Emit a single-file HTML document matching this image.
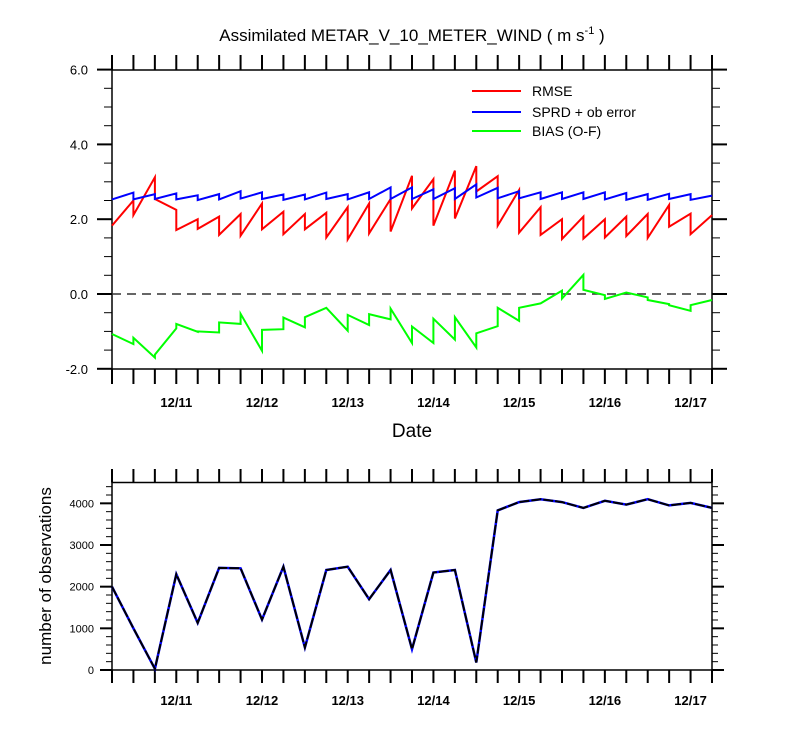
<!DOCTYPE html>
<html><head><meta charset="utf-8"><style>
body{margin:0;background:#fff}
svg{display:block;font-family:"Liberation Sans",sans-serif}
</style></head><body>
<svg id="chart" width="800" height="750" xmlns="http://www.w3.org/2000/svg"></svg>
<script>
// ---- data (6-hourly, 12/10 06Z .. 12/17 06Z) ----
const rmsePrior = [1.83,2.50,3.12,2.25,2.00,2.07,2.14,2.42,2.20,2.14,2.17,2.32,2.42,2.54,3.16,3.07,3.30,3.42,3.15,2.78,2.32,2.00,2.07,2.00,2.07,2.14,2.38,2.15,2.11];
const rmsePost  = [1.83,2.11,2.54,1.71,1.74,1.58,1.56,1.73,1.60,1.73,1.51,1.46,1.62,1.67,2.29,1.83,2.02,2.74,1.83,1.64,1.58,1.47,1.48,1.51,1.55,1.50,1.80,1.60,2.11];
const sprdPrior = [2.53,2.71,2.67,2.69,2.64,2.67,2.75,2.72,2.66,2.66,2.71,2.67,2.72,2.85,2.85,2.80,2.83,2.93,2.84,2.75,2.72,2.72,2.72,2.72,2.70,2.67,2.68,2.67,2.63];
const sprdPost  = [2.53,2.53,2.54,2.53,2.51,2.53,2.55,2.54,2.52,2.53,2.54,2.53,2.54,2.54,2.54,2.54,2.54,2.58,2.56,2.56,2.54,2.54,2.54,2.53,2.52,2.52,2.54,2.52,2.63];
const biasPrior = [-1.07,-1.34,-1.70,-0.92,-1.01,-1.03,-0.80,-1.52,-0.94,-0.89,-0.37,-0.98,-0.83,-0.68,-1.31,-1.31,-1.22,-1.43,-0.86,-0.72,-0.25,0.09,0.51,-0.03,0.04,-0.09,-0.27,-0.45,-0.16];
const biasPost  = [-1.07,-1.17,-1.62,-0.80,-1.00,-0.76,-0.53,-0.96,-0.63,-0.62,-0.37,-0.56,-0.54,-0.39,-0.87,-0.66,-0.62,-1.05,-0.37,-0.37,-0.25,-0.12,0.11,-0.13,0.04,-0.16,-0.30,-0.30,-0.16];
const nObs = [2000,1000,30,2300,1130,2450,2440,1210,2480,540,2400,2480,1700,2400,500,2340,2400,180,3830,4030,4100,4030,3890,4060,3970,4100,3950,4010,3890];
const topTicks = [6.0,4.0,2.0,0.0,-2.0];
const topTickLabels = ["6.0","4.0","2.0","0.0","-2.0"];
const botTicks = [0,1000,2000,3000,4000];
const botTickLabels = ["0","1000","2000","3000","4000"];
const dateLabels = ["12/11","12/12","12/13","12/14","12/15","12/16","12/17"];
const dateIdx = [3,7,11,15,19,23,27];

const NS="http://www.w3.org/2000/svg";
const svg=document.getElementById('chart');
function mk(tag,attrs,parent){const e=document.createElementNS(NS,tag);for(const k in attrs)e.setAttribute(k,attrs[k]);(parent||svg).appendChild(e);return e;}
const X0=112,X1=712,N=28;
const xs=i=>X0+(X1-X0)*i/N;
const yTop=v=>294-(v)*37.4;      // 6 ->70, -2 ->369
const yBot=v=>670-v*(670-482.5)/4500;

// --- top panel axes
const gTop=mk('g',{});


mk('rect',{x:X0,y:70,width:X1-X0,height:299,fill:'none',stroke:'#000','stroke-width':1.5},gTop);
for(let i=0;i<=N;i++){const x=xs(i);
 mk('line',{x1:x,x2:x,y1:55,y2:70,stroke:'#000','stroke-width':2},gTop);
 mk('line',{x1:x,x2:x,y1:369,y2:384,stroke:'#000','stroke-width':2},gTop);}
for(let v=-2;v<=6.001;v+=0.5){const y=yTop(v);const maj=Math.abs(v%2)<1e-6;
 mk('line',{x1:maj?97:104,x2:X0,y1:y,y2:y,stroke:'#000','stroke-width':maj?2:1},gTop);
 mk('line',{x1:X1,x2:maj?727:720,y1:y,y2:y,stroke:'#000','stroke-width':maj?2:1},gTop);}
topTicks.forEach((v,i)=>{const t=mk('text',{x:88,y:yTop(v)+5,'text-anchor':'end','font-size':13},gTop);t.textContent=topTickLabels[i];
 
 });
dateIdx.forEach((k,i)=>{const t=mk('text',{x:xs(k),y:407,'text-anchor':'middle','font-size':13,'font-weight':'bold'},gTop);t.textContent=dateLabels[i];
 
 });
mk('line',{x1:X0,x2:X1,y1:yTop(0),y2:yTop(0),stroke:'#333','stroke-width':1.5,'stroke-dasharray':'9,6'},gTop);

function saw(pr,po,col,name){let d='';for(let i=0;i<=N;i++){d+=(i?'L':'M')+xs(i).toFixed(1)+','+yTop(pr[i]).toFixed(1)+'L'+xs(i).toFixed(1)+','+yTop(po[i]).toFixed(1);}
 const p=mk('path',{d:d,fill:'none',stroke:col,'stroke-width':2,'stroke-linejoin':'miter'},gTop);
 
 }
saw(rmsePrior,rmsePost,'#ff0000','rmse-line');
saw(sprdPrior,sprdPost,'#0000ff','sprd-line');
saw(biasPrior,biasPost,'#00ff00','bias-line');

// legend
const leg=[['RMSE','#ff0000',91],['SPRD + ob error','#0000ff',112],['BIAS (O-F)','#00ff00',131]];
leg.forEach(l=>{const g=mk('g',{});
 
 
 mk('line',{x1:472,x2:521,y1:l[2],y2:l[2],stroke:l[1],'stroke-width':2},g);
 const t=mk('text',{x:532,y:l[2]+5,'font-size':14},g);t.textContent=l[0];});

const title=mk('text',{x:412,y:41,'text-anchor':'middle','font-size':17});


title.innerHTML='Assimilated METAR_V_10_METER_WIND ( m s<tspan font-size="11" dy="-7">-1</tspan><tspan dy="7"> )</tspan>';
const xt=mk('text',{x:412,y:437,'text-anchor':'middle','font-size':19});xt.textContent='Date';



// --- bottom panel
const gB=mk('g',{});


mk('rect',{x:X0,y:482.5,width:X1-X0,height:187.5,fill:'none',stroke:'#000','stroke-width':1.5},gB);
for(let i=0;i<=N;i++){const x=xs(i);
 mk('line',{x1:x,x2:x,y1:469,y2:482.5,stroke:'#000','stroke-width':2},gB);
 mk('line',{x1:x,x2:x,y1:670,y2:683,stroke:'#000','stroke-width':2},gB);}
for(let v=0;v<=4500;v+=200){const y=yBot(v);const maj=v%1000===0;
 mk('line',{x1:maj?100:106,x2:X0,y1:y,y2:y,stroke:'#000','stroke-width':maj?2:1},gB);
 mk('line',{x1:X1,x2:maj?724:718,y1:y,y2:y,stroke:'#000','stroke-width':maj?2:1},gB);}
botTicks.forEach((v,i)=>{const t=mk('text',{x:94,y:yBot(v)+4,'text-anchor':'end','font-size':11},gB);t.textContent=botTickLabels[i];
 
 });
dateIdx.forEach((k,i)=>{const t=mk('text',{x:xs(k),y:705,'text-anchor':'middle','font-size':13,'font-weight':'bold'},gB);t.textContent=dateLabels[i];
 
 });
let d='';nObs.forEach((v,i)=>{d+=(i?'L':'M')+xs(i).toFixed(1)+','+yBot(v).toFixed(1);});
const p1=mk('path',{d:d,fill:'none',stroke:'#0000ff','stroke-width':2.5},gB);


const p2=mk('path',{d:d,fill:'none',stroke:'#000','stroke-width':2,'stroke-dasharray':'10,2'},gB);


const yt=mk('text',{x:0,y:0,'text-anchor':'middle','font-size':17,transform:'translate(51,576) rotate(-90)'});yt.textContent='number of observations';


</script>
</body></html>
